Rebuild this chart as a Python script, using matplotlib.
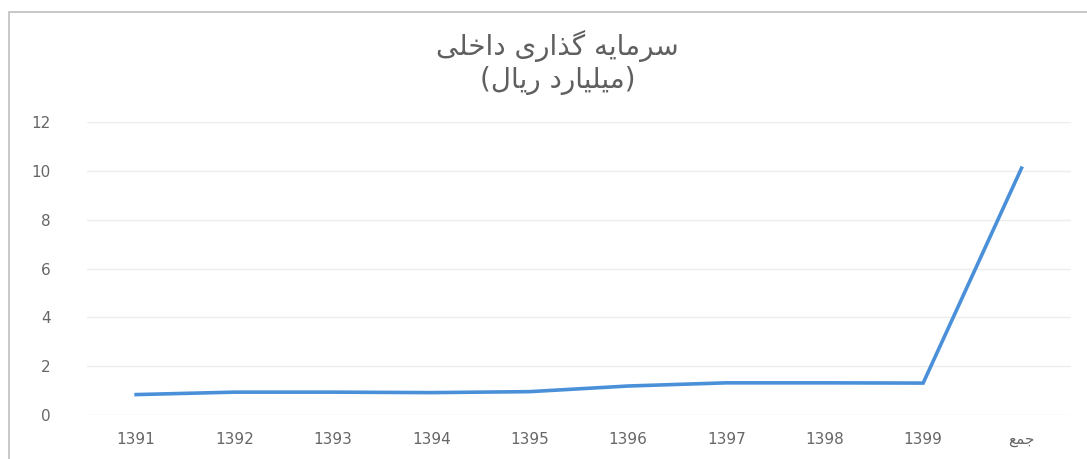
import numpy as np
import matplotlib.pyplot as plt
from matplotlib.patches import Rectangle

# data
years = ["1391", "1392", "1393", "1394", "1395", "1396", "1397", "1398", "1399", "جمع"]
invest = [0.85, 0.95, 0.95, 0.93, 0.97, 1.2, 1.33, 1.33, 1.32, 10.1]
yticks = [0, 2, 4, 6, 8, 10, 12]
title_1 = "سرمایه گذاری داخلی"
title_2 = "(میلیارد ریال)"

# matplotlib has no arabic shaping, so pick the presentation forms by hand
# letter: (isolated, final, initial, medial)
FORMS = {
    "ا": ("\uFE8D", "\uFE8E", None, None),
    "د": ("\uFEA9", "\uFEAA", None, None),
    "ذ": ("\uFEAB", "\uFEAC", None, None),
    "ر": ("\uFEAD", "\uFEAE", None, None),
    "س": ("\uFEB1", "\uFEB2", "\uFEB3", "\uFEB4"),
    "م": ("\uFEE1", "\uFEE2", "\uFEE3", "\uFEE4"),
    "ی": ("\uFBFC", "\uFBFD", "\uFBFE", "\uFBFF"),
    "ه": ("\uFEE9", "\uFEEA", "\uFEEB", "\uFEEC"),
    "گ": ("\uFB92", "\uFB93", "\uFB94", "\uFB95"),
    "خ": ("\uFEA5", "\uFEA6", "\uFEA7", "\uFEA8"),
    "ل": ("\uFEDD", "\uFEDE", "\uFEDF", "\uFEE0"),
    "ج": ("\uFE9D", "\uFE9E", "\uFE9F", "\uFEA0"),
    "ع": ("\uFEC9", "\uFECA", "\uFECB", "\uFECC"),
}
MIRROR = {"(": ")", ")": "("}


def joins_next(ch):
    return ch in FORMS and FORMS[ch][2] is not None


def shape(text):
    # leave plain numbers alone
    if not any(ch in FORMS for ch in text):
        return text
    out = []
    for i, ch in enumerate(text):
        if ch not in FORMS:
            out.append(MIRROR.get(ch, ch))
            continue
        prev = text[i - 1] if i > 0 else ""
        nxt = text[i + 1] if i + 1 < len(text) else ""
        left = joins_next(prev)
        right = nxt in FORMS and joins_next(ch)
        iso, fin, ini, med = FORMS[ch]
        if left and right:
            out.append(med)
        elif left:
            out.append(fin)
        elif right:
            out.append(ini)
        else:
            out.append(iso)
    return "".join(out[::-1])


plt.rcParams['font.family'] = ['DejaVu Sans']

fig = plt.figure(figsize=(10.87, 4.59), dpi=100)
ax = fig.add_axes([0.08, 0.095, 0.905, 0.64])

x = np.arange(len(years))
ax.plot(x, invest, color="#4A90D9", linewidth=2.6, solid_joinstyle="miter")

ax.set_xlim(-0.5, len(years) - 0.5)
ax.set_ylim(0, 12)
ax.set_yticks(yticks)
ax.set_xticks(x)
ax.set_xticklabels([shape(y) for y in years])
ax.tick_params(length=0, labelsize=11, colors="#666666", pad=12)
ax.tick_params(axis="y", pad=26)
ax.grid(axis="y", color="#EDEDED", linewidth=1)
for s in ax.spines.values():
    s.set_visible(False)

fig.text(0.513, 0.9, shape(title_1), ha="center", va="center",
         fontsize=20, color="#5F5F5F")
fig.text(0.513, 0.825, shape(title_2), ha="center", va="center",
         fontsize=20, color="#5F5F5F")

# chart frame
fig.patches.append(Rectangle((0.008, -0.05), 1.1, 1.024, transform=fig.transFigure,
                             fill=False, edgecolor="#BFBFBF", linewidth=1.2))

fig.savefig("out.png", dpi=100)
